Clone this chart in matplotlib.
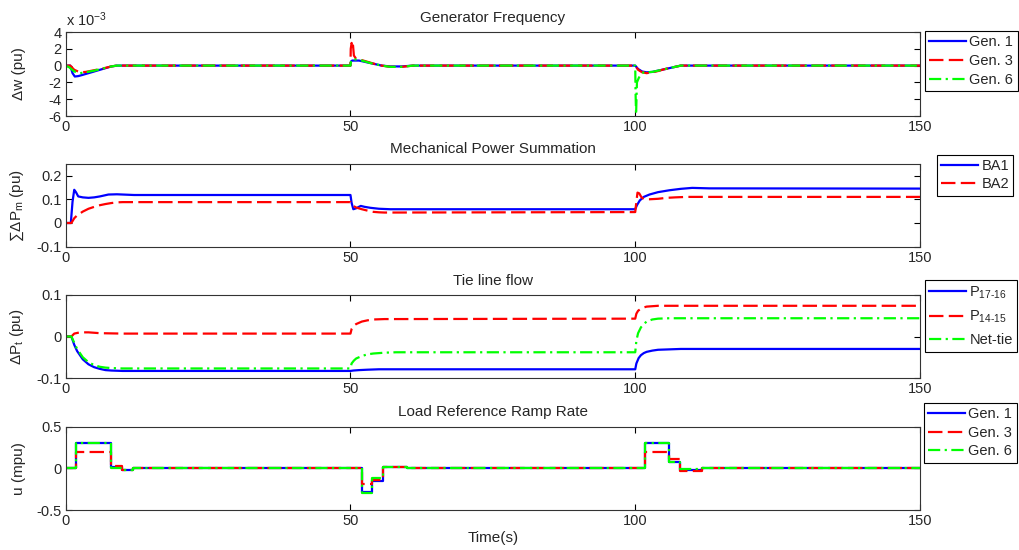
import matplotlib
matplotlib.use("Agg")
import matplotlib.pyplot as plt

plt.rcParams['font.family'] = ['Liberation Sans', 'DejaVu Sans']
plt.rcParams['mathtext.fontset'] = 'custom'
plt.rcParams['mathtext.rm'] = 'Liberation Sans'
plt.rcParams['mathtext.it'] = 'Liberation Sans'
plt.rcParams['axes.unicode_minus'] = False

TXT = '#262626'
FS_TICK = 10.5
FS_TITLE = 11
FS_LABEL = 11
FS_LEG = 10.5

# ---- Generator frequency deviation (units of 1e-3 pu) ----
t_w_gen1 = [0, 0.8, 1.2, 1.6, 2.2, 3, 4, 5, 6, 7, 8, 9,
            50, 50.1, 50.3, 51.5, 52.5, 53.5, 54.5, 55.5, 57, 59, 61,
            100, 100.5, 101.2, 102, 103, 104, 105, 106, 107, 108, 150]
dw_gen1 = [0, 0, -0.9, -1.3, -1.25, -1.1, -0.9, -0.7, -0.5, -0.3, -0.1, 0,
           0, 0.5, 0.6, 0.6, 0.45, 0.3, 0.15, 0.0, -0.1, -0.1, 0,
           0, -0.4, -0.7, -0.8, -0.75, -0.6, -0.45, -0.3, -0.15, 0, 0]
t_w_gen3 = [0, 0.8, 1.5, 2.5, 3.5, 5, 6.5, 8, 9,
            50, 50.05, 50.2, 50.3, 50.45, 50.6, 51, 51.5, 52.5, 53.5, 54.5, 55.5, 57, 59, 61,
            100, 100.5, 101.2, 102, 103, 104, 105, 106, 107, 108, 150]
dw_gen3 = [0, 0, -0.5, -0.8, -0.75, -0.55, -0.35, -0.1, 0,
           0, 2.0, 2.7, 2.2, 2.4, 1.2, 0.8, 0.75, 0.55, 0.35, 0.15, 0.0, -0.15, -0.15, 0,
           0, -0.5, -0.8, -0.9, -0.8, -0.65, -0.45, -0.3, -0.15, 0, 0]
t_w_gen6 = [0, 0.6, 1.5, 2.5, 3.5, 5, 6.5, 8, 9,
            50, 50.1, 50.3, 51.5, 52.5, 53.5, 54.5, 55.5, 57, 59, 61,
            100, 100.05, 100.15, 100.3, 100.6, 101, 101.5, 102, 103, 104, 105, 106, 107, 108, 150]
dw_gen6 = [0, -0.2, -0.7, -0.9, -0.8, -0.6, -0.35, -0.1, 0,
           0, 0.6, 0.75, 0.7, 0.5, 0.3, 0.15, 0, -0.15, -0.15, 0,
           0, -3.0, -5.8, -2.0, -1.5, -1.0, -0.8, -0.8, -0.75, -0.6, -0.45, -0.3, -0.15, 0, 0]

# ---- Mechanical power summation per balancing area (pu) ----
t_ba1 = [0, 0.9, 1.2, 1.5, 1.8, 2.2, 3, 4, 5, 6, 7.5, 9, 12,
         50, 50.2, 50.5, 51.0, 51.8, 52.5, 53.5, 55, 57,
         100, 100.3, 100.8, 101.5, 102.5, 104, 106, 108, 110, 113, 150]
pm_ba1 = [0, 0, 0.09, 0.14, 0.13, 0.112, 0.108, 0.106, 0.108, 0.112, 0.12, 0.121, 0.118,
          0.118, 0.085, 0.058, 0.062, 0.072, 0.068, 0.064, 0.06, 0.058,
          0.058, 0.075, 0.095, 0.11, 0.12, 0.13, 0.138, 0.144, 0.148, 0.146, 0.145]
t_ba2 = [0, 1.0, 1.5, 2, 3, 4, 5, 6, 7, 8, 9, 10,
         50, 50.3, 51, 52, 53, 54, 55, 56,
         100, 100.2, 100.4, 100.7, 101.1, 101.6, 102.5, 104, 105.5, 107, 109, 150]
pm_ba2 = [0, 0, 0.02, 0.032, 0.048, 0.06, 0.068, 0.075, 0.08, 0.084, 0.087, 0.088,
          0.088, 0.075, 0.065, 0.058, 0.052, 0.047, 0.045, 0.044,
          0.046, 0.09, 0.128, 0.125, 0.108, 0.1, 0.1, 0.102, 0.106, 0.108, 0.11, 0.11]

# ---- Tie line flows (pu) ----
t_p1716 = [0, 1, 1.5, 2, 3, 4, 5, 6, 7, 8, 10, 12,
           50, 50.5, 51.5, 53, 55,
           100, 100.2, 100.6, 101, 101.5, 102, 103, 104, 106, 108, 150]
pt_p1716 = [0, 0, -0.02, -0.035, -0.055, -0.067, -0.074, -0.078, -0.081, -0.082, -0.083, -0.083,
            -0.083, -0.082, -0.081, -0.08, -0.079,
            -0.079, -0.065, -0.052, -0.045, -0.04, -0.037, -0.034, -0.032, -0.031, -0.030, -0.030]
t_p1415 = [0, 1, 1.5, 2.5, 4, 6, 10,
           50, 50.2, 50.6, 51, 52, 53, 54, 56, 58,
           100, 100.2, 100.5, 101, 101.5, 102, 103, 104, 150]
pt_p1415 = [0, 0, 0.007, 0.01, 0.01, 0.008, 0.007,
            0.007, 0.018, 0.026, 0.03, 0.036, 0.039, 0.041, 0.042, 0.042,
            0.043, 0.055, 0.062, 0.067, 0.07, 0.072, 0.073, 0.074, 0.074]
t_net = [0, 1, 1.5, 2, 3, 4, 5, 6, 7, 8, 10, 12,
         50, 50.2, 50.6, 51, 52, 53, 54, 55, 56, 58,
         100, 100.2, 100.5, 101, 101.5, 102, 103, 104, 106, 150]
pt_net = [0, 0, -0.015, -0.03, -0.05, -0.062, -0.069, -0.073, -0.075, -0.076, -0.077, -0.077,
          -0.077, -0.065, -0.058, -0.053, -0.047, -0.043, -0.041, -0.040, -0.039, -0.038,
          -0.038, -0.01, 0.008, 0.022, 0.03, 0.036, 0.041, 0.043, 0.044, 0.044]

# ---- Load reference ramp rate (mpu), piecewise constant ----
t_u = [0, 1.8, 8.0, 9.8, 11.9, 52, 53.7, 55.8, 60, 101.8, 105.9, 107.9, 111.7, 150]
u_gen1 = [0, 0.3, 0.02, -0.015, 0, -0.28, -0.15, 0.02, 0, 0.3, 0.08, -0.02, 0, 0]
u_gen3 = [0, 0.2, 0.03, -0.015, 0, -0.19, -0.14, 0.02, 0, 0.2, 0.11, -0.03, 0, 0]
u_gen6 = [0, 0.3, 0.0, -0.015, 0, -0.29, -0.11, 0.02, 0, 0.3, 0.08, -0.01, 0, 0]

x_ticks = [0, 50, 100, 150]

W, H = 1020, 550
fig = plt.figure(figsize=(W / 100, H / 100), dpi=100)

def px_axes(top, bottom, left=65.7, right=920):
    return fig.add_axes([left / W, 1 - bottom / H, (right - left) / W, (bottom - top) / H])

LW = 1.6
solid = dict(color='#0000ff', lw=LW, ls='-')
dash = dict(color='#ff0000', lw=LW, ls=(0, (6.5, 2.4)))
dashdot = dict(color='#00ff00', lw=LW, ls=(0, (5.5, 2, 1, 2)))

def style(ax, ylim, yticks, ylabels, title, ylabel):
    ax.set_xlim(0, 150)
    ax.set_ylim(*ylim)
    ax.set_xticks(x_ticks)
    ax.set_yticks(yticks)
    ax.set_yticklabels(ylabels)
    ax.tick_params(direction='in', top=True, right=True, length=4, width=0.8,
                   labelsize=FS_TICK, colors='black', labelcolor=TXT)
    ax.tick_params(axis='x', pad=3)
    ax.tick_params(axis='y', pad=3)
    for s in ax.spines.values():
        s.set_linewidth(0.8)
        s.set_color('#333333')
    ax.set_title(title, fontsize=FS_TITLE, color=TXT, pad=7.5)
    ax.set_ylabel(ylabel, fontsize=FS_LABEL, color=TXT)

def legend(ax, x0, y0, **kw):
    leg = ax.legend(loc='upper left', bbox_to_anchor=(x0 / W, 1 - y0 / H),
                    bbox_transform=fig.transFigure, borderaxespad=0,
                    fontsize=FS_LEG, fancybox=False, framealpha=1, edgecolor='black',
                    handlelength=2.5, handletextpad=0.25, borderpad=0.3,
                    labelcolor=TXT, **kw)
    leg.get_frame().set_linewidth(0.8)
    return leg

# Panel 1
ax1 = px_axes(32, 116)
ax1.plot(t_w_gen1, dw_gen1, label='Gen. 1', **solid)
ax1.plot(t_w_gen3, dw_gen3, label='Gen. 3', **dash)
ax1.plot(t_w_gen6, dw_gen6, label='Gen. 6', **dashdot)
style(ax1, (-6, 4), [-6, -4, -2, 0, 2, 4], ['-6', '-4', '-2', '0', '2', '4'],
      'Generator Frequency', 'Δw (pu)')
ax1.text(0, 1.03, r'x 10$^{\mathregular{-3}}$', transform=ax1.transAxes,
         fontsize=FS_TICK, color=TXT, ha='left', va='bottom')
legend(ax1, 925, 31, labelspacing=0.33)

# Panel 2
ax2 = px_axes(163.7, 246.7)
ax2.plot(t_ba1, pm_ba1, label='BA1', **solid)
ax2.plot(t_ba2, pm_ba2, label='BA2', **dash)
style(ax2, (-0.1, 0.25), [-0.1, 0, 0.1, 0.2], ['-0.1', '0', '0.1', '0.2'],
      'Mechanical Power Summation', r'∑ΔP$_{\mathregular{m}}$ (pu)')
legend(ax2, 937, 155, labelspacing=0.28)

# Panel 3
ax3 = px_axes(295, 378)
ax3.plot(t_p1716, pt_p1716, label=r'P$_{\mathregular{17\text{-}16}}$', **solid)
ax3.plot(t_p1415, pt_p1415, label=r'P$_{\mathregular{14\text{-}15}}$', **dash)
ax3.plot(t_net, pt_net, label='Net-tie', **dashdot)
style(ax3, (-0.1, 0.1), [-0.1, 0, 0.1], ['-0.1', '0', '0.1'],
      'Tie line flow', r'ΔP$_{\mathregular{t}}$ (pu)')
legend(ax3, 925, 280, labelspacing=0.55)

# Panel 4
ax4 = px_axes(426.7, 510)
ax4.plot(t_u, u_gen1, drawstyle='steps-post', label='Gen. 1', **solid)
ax4.plot(t_u, u_gen3, drawstyle='steps-post', label='Gen. 3', **dash)
ax4.plot(t_u, u_gen6, drawstyle='steps-post', label='Gen. 6', **dashdot)
style(ax4, (-0.5, 0.5), [-0.5, 0, 0.5], ['-0.5', '0', '0.5'],
      'Load Reference Ramp Rate', 'u (mpu)')
ax4.set_xlabel('Time(s)', fontsize=FS_LABEL, color=TXT, labelpad=2)
legend(ax4, 924, 403, labelspacing=0.3)

for ax in (ax1, ax2, ax3, ax4):
    ax.yaxis.set_label_coords(-0.047, 0.5)

fig.savefig('out.png', dpi=100)
